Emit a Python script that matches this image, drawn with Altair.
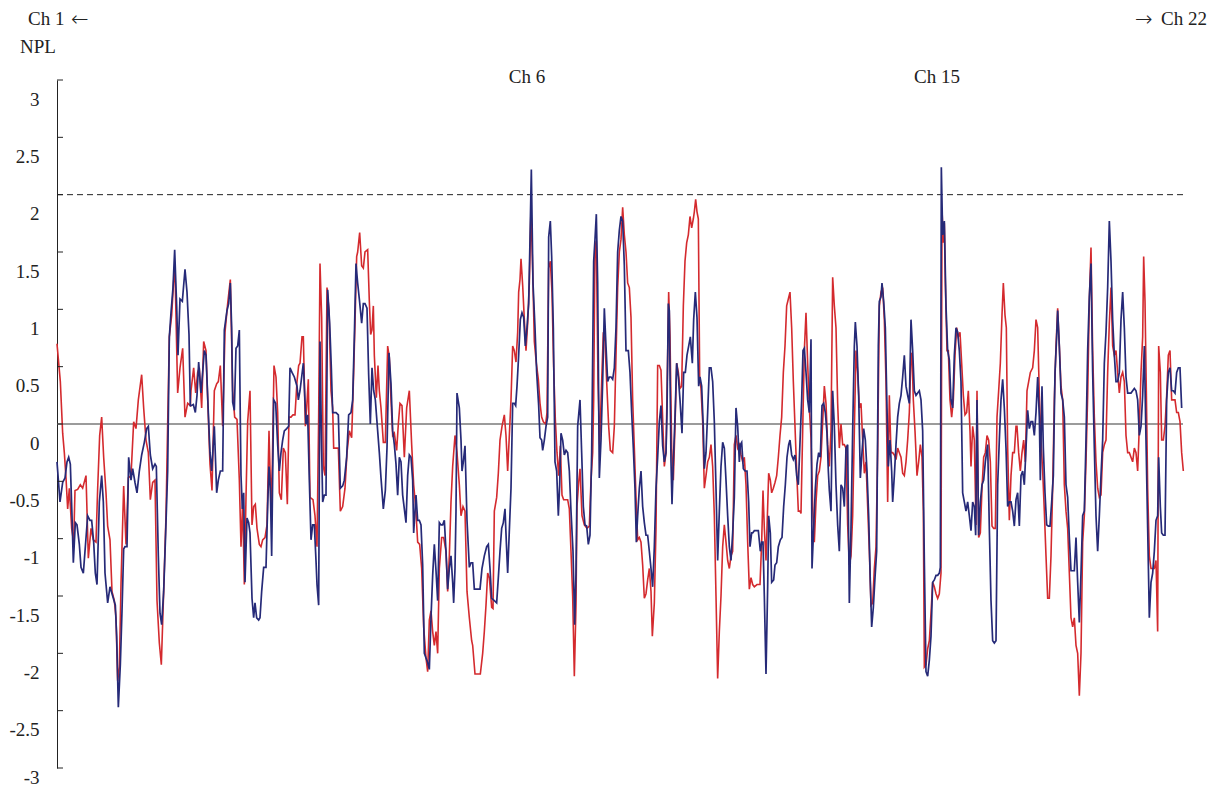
import altair as alt
import pandas as pd

# Genome position (cM, Ch 1 -> Ch 22) and NPL score
red_1 = [(0,0.70),(10,0.37),(17,-0.08),(22,-0.25),(27,-0.47),(32,-0.74),(37,-0.56),(44,-0.91),(50,-1.03),(54,-0.58),
         (62,-0.57),(70,-0.53),(77,-0.56),(87,-0.45),(94,-1.17),(102,-0.91),(109,-1.01),(117,-1.03),(122,-0.56),(128,-0.10),
         (134,0.06),(140,-0.29),(147,-0.60),(152,-0.89),(159,-1.01),(165,-1.46),(172,-1.54),(177,-1.69),(182,-2.24),(187,-2.12),
         (192,-1.40),(200,-0.54),(207,-1.05),(214,-0.47),(222,-0.45),(230,0.02),(237,-0.04),(244,0.21),(254,0.43),(260,0.14),
         (267,-0.14),(274,-0.25),(280,-0.66),(287,-0.51),(294,-0.49),(300,-1.54),(307,-1.91),(313,-2.10),(320,-1.46),(327,-0.80),
         (332,0.00),(337,0.76),(344,0.95),(350,1.25),(354,1.34),(362,0.27),(369,0.49),(377,0.66),(384,0.06),(392,0.18),(400,0.16)]
red_2 = [(402,0.29),(410,0.49),(416,0.27),(422,0.45),(427,0.49),(434,0.14),(440,0.72),(447,0.64),(454,0.06),(459,-0.35),
         (465,-0.58),(472,0.29),(479,0.35),(484,0.37),(490,0.51),(497,-0.02),(504,0.80),(512,1.05),(520,1.26),(527,0.29),
         (533,0.06),(540,0.04),(547,-0.49),(552,-1.07),(557,-0.68),(562,-1.40),(567,-0.64),(572,0.02),(579,0.29),(585,-0.88),
         (590,-0.72),(595,-0.70),(600,-0.91),(607,-1.05),(612,-1.07),(617,-1.01),(624,-0.99),(630,-0.88),(636,-0.06),(642,-0.72),
         (646,-0.35),(651,0.51),(657,0.41),(662,0.10),(667,-0.60),(673,-0.66),(679,-0.21),(685,-0.25),(691,-0.70),(696,0.06),
         (702,0.06),(708,0.08),(714,0.08),(720,0.37),(725,0.51),(729,0.53),(735,0.76),(739,0.76),(745,-0.02),(749,0.14),
         (754,0.39),(759,-0.64),(768,-0.66),(774,-0.80),(780,-1.07),(785,0.06),(789,1.40),(794,0.93),(799,-0.37),(804,-0.45),
         (810,1.19),(816,0.99),(822,0.29)]
red_3 = [(827,0.14),(830,-0.21),(837,-0.21),(844,-0.21),(850,-0.76),(857,-0.72),(864,-0.56),(870,-0.25),(877,-0.06),(884,-0.12),
         (890,0.45),(894,0.88),(899,1.46),(902,1.50),(908,1.67),(914,1.38),(919,1.36),(924,1.50),(932,1.52),(937,1.07),
         (941,0.78),(945,0.82),(949,1.03),(952,0.60),(958,0.23),(963,0.51),(967,0.29),(972,0.14),(979,-0.16),(985,-0.16),
         (992,0.68),(997,0.58),(1002,0.21),(1007,-0.10),(1012,-0.08),(1019,-0.23),(1024,0.00),(1029,0.18),(1035,0.16),(1042,-0.29),
         (1049,0.14),(1057,0.29),(1064,-0.18),(1070,-0.53),(1076,-0.72),(1082,-1.03),(1088,-1.05),(1094,-1.26),(1100,-1.77),(1107,-2.04),
         (1112,-2.16),(1117,-1.71),(1122,-1.63),(1127,-1.81),(1132,-1.93),(1137,-1.81),(1142,-2.00),(1147,-1.26),(1154,-0.99),(1160,-0.99),
         (1167,-1.11),(1172,-1.46),(1177,-1.15),(1182,-0.68),(1187,-0.37),(1194,-0.10),(1200,-0.25),(1207,-0.53),(1212,-0.80),(1218,-0.72),
         (1224,-0.76),(1230,-1.46),(1237,-1.69),(1244,-1.89)]
red_4 = [(1247,-1.93),(1254,-2.18),(1262,-2.18),(1270,-2.18),(1277,-2.00),(1282,-1.81),(1287,-1.58),(1292,-1.30),(1297,-1.34),(1304,-1.60),
         (1308,-1.61),(1312,-0.76),(1319,-0.64),(1324,-0.43),(1329,-0.14),(1335,-0.02),(1342,0.08),(1347,-0.10),(1352,-0.41),(1357,-0.10),
         (1362,0.21),(1367,0.68),(1372,0.64),(1377,0.54),(1382,0.80),(1385,1.15),(1389,1.26),(1392,1.44),(1397,1.21),(1402,0.91),
         (1407,0.64),(1412,0.88),(1417,1.23),(1422,1.89),(1427,1.34),(1432,0.72),(1438,0.53),(1444,0.39),(1449,0.18),(1454,0.06),
         (1459,0.02),(1466,0.00),(1470,0.10),(1475,1.36),(1480,1.42),(1485,1.15),(1490,0.49),(1495,0.04),(1500,-0.25),(1505,-0.45),
         (1510,-0.19),(1515,-0.62),(1520,-0.66),(1525,-0.66),(1532,-0.66),(1537,-0.74),(1542,-1.11),(1547,-1.50),(1552,-2.20),(1557,-1.58),
         (1560,-0.72),(1565,-0.51),(1569,-0.39),(1575,-0.80),(1582,-0.88),(1590,-0.91),(1597,-0.89),(1602,-0.49),(1607,-0.25),(1610,0.21),
         (1614,1.54),(1618,1.60),(1623,0.37),(1628,-0.18),(1634,0.37),(1639,0.80),(1644,0.72),(1649,0.37),(1655,-0.02),(1660,-0.23)]
red_5 = [(1667,-0.25),(1672,-0.02),(1677,0.60),(1682,1.19),(1687,1.50),(1692,1.61),(1697,1.89),(1702,1.65),(1707,1.50),(1712,1.23),
         (1717,1.19),(1722,0.93),(1727,0.21),(1732,-0.21),(1737,-0.64),(1742,-1.01),(1747,-0.99),(1752,-1.03),(1757,-1.23),(1762,-1.52),
         (1767,-1.48),(1772,-1.36),(1777,-1.26),(1782,-1.46),(1786,-1.85),(1792,-1.56),(1797,-0.91),(1802,0.51),(1807,0.51),(1812,0.47),
         (1817,0.04),(1822,-0.37),(1827,-0.25),(1832,0.60),(1835,1.15),(1839,0.76),(1844,-0.21),(1849,-0.49),(1854,-0.02),(1859,0.53),
         (1864,0.45),(1869,0.31),(1874,0.33),(1879,1.03),(1884,1.42),(1889,1.58),(1894,1.65),(1899,1.81),(1904,1.71),(1909,1.79),
         (1912,1.85),(1916,1.96),(1920,1.85),(1924,1.79),(1928,0.41),(1932,0.31),(1937,0.02),(1942,-0.56),(1947,-0.45),(1952,-0.33),
         (1957,-0.29),(1962,-0.18),(1967,-0.37),(1972,-0.80),(1977,-1.50),(1982,-2.22),(1987,-1.81),(1992,-1.50),(1997,-1.07),(2002,-0.88),
         (2007,-1.03),(2012,-1.19),(2017,-1.26),(2022,-1.15),(2027,-1.11),(2032,-0.18),(2037,-0.10),(2042,-0.21),(2047,-0.18),(2052,-0.27),
         (2057,-0.33),(2062,-0.29),(2067,-0.53),(2072,-1.03),(2077,-1.44),(2082,-1.34)]
red_6 = [(2087,-1.40),(2092,-1.42),(2100,-1.40),(2109,-1.40),(2114,-1.03),(2118,-0.58),(2122,-0.91),(2127,-1.19),(2132,-0.72),(2135,-0.43),
         (2140,-0.49),(2144,-0.60),(2149,-0.56),(2154,-0.51),(2159,-0.45),(2164,-0.29),(2169,-0.10),(2174,0.06),(2179,0.45),(2184,0.68),
         (2189,1.03),(2194,1.09),(2199,1.15),(2204,0.84),(2209,0.37),(2214,-0.02),(2219,-0.41),(2224,-0.76),(2229,-0.76),(2232,-0.78),
         (2237,-0.06),(2242,0.64),(2247,0.97),(2252,0.53),(2257,0.14),(2262,-0.12),(2267,-0.72),(2272,-1.03),(2277,-0.68),(2282,-0.45),
         (2287,-0.41),(2292,-0.29),(2297,0.02),(2302,0.33),(2307,0.18),(2312,-0.18),(2317,-0.37),(2322,-0.06),(2327,1.28),(2332,1.03),
         (2337,0.84),(2342,0.18),(2347,-0.21),(2352,0.00),(2357,-0.18),(2362,-0.18),(2367,-0.21),(2372,-0.88),(2377,-1.23),(2382,-1.15),
         (2387,-0.80),(2392,-0.06),(2397,0.64),(2402,0.45),(2407,0.14),(2412,0.18),(2417,-0.14),(2422,-0.43),(2427,-0.33),(2432,-0.72),
         (2437,-1.11),(2442,-1.58),(2447,-1.56),(2452,-1.26),(2457,-1.07),(2462,-0.25),(2467,1.03),(2472,1.15),(2477,1.19),(2482,0.91),
         (2487,0.37),(2492,-0.68),(2497,0.25),(2502,-0.25)]
red_7 = [(2507,-0.25),(2512,-0.27),(2517,-0.31),(2522,-0.21),(2527,-0.25),(2532,-0.29),(2537,-0.43),(2542,-0.45),(2547,-0.33),(2552,-0.14),
         (2557,0.10),(2562,0.62),(2565,0.60),(2569,0.21),(2574,-0.06),(2580,-0.45),(2585,-0.33),(2590,-0.18),(2595,-0.29),(2599,-0.76),
         (2602,-2.12),(2607,-2.10),(2612,-1.96),(2617,-1.89),(2622,-1.65),(2627,-1.38),(2632,-1.42),(2637,-1.48),(2642,-1.52),(2647,-1.48),
         (2652,-1.30),(2655,1.87),(2659,1.58),(2662,1.75),(2665,1.23),(2670,0.64),(2674,0.64),(2679,0.21),(2684,0.06),(2689,0.21),
         (2694,0.60),(2699,0.84),(2704,0.76),(2709,0.80),(2714,0.53),(2719,0.25),(2724,0.08),(2729,0.10),(2734,0.29),(2739,-0.06),
         (2742,-0.37),(2747,-0.02),(2752,-0.14),(2757,-0.88),(2760,0.29),(2765,-0.99),(2770,-0.95),(2775,-0.56),(2780,-0.29),(2785,-0.25),
         (2790,-0.10),(2795,-0.14),(2800,-0.33),(2805,-0.89),(2810,-0.91),(2815,-0.91),(2820,0.06),(2825,0.29),(2830,0.53),(2835,0.95),
         (2839,1.23),(2844,0.95),(2848,0.84),(2852,-0.21),(2857,-0.84),(2862,-0.45),(2867,-0.25),(2872,-0.25),(2877,-0.02),(2880,-0.02),
         (2885,-0.25),(2890,-0.41),(2895,-0.25),(2900,-0.14),(2905,-0.33),(2910,0.29),(2915,0.37),(2920,0.45)]
red_8 = [(2927,0.49),(2932,0.64),(2937,0.91),(2942,0.84),(2947,0.25),(2952,-0.14),(2957,-0.41),(2962,-0.76),(2967,-1.15),(2972,-1.52),
         (2977,-1.52),(2982,-1.15),(2987,-0.56),(2992,0.21),(2997,0.68),(3002,1.01),(3007,0.68),(3012,0.33),(3017,0.21),(3022,-0.53),
         (3027,-0.76),(3032,-0.91),(3037,-1.30),(3042,-1.69),(3047,-1.77),(3052,-1.69),(3057,-1.93),(3062,-2.00),(3067,-2.37),(3072,-2.00),
         (3077,-1.03),(3082,-0.80),(3087,-0.33),(3092,0.25),(3097,1.07),(3102,1.54),(3107,0.64),(3112,0.06),(3117,-0.33),(3122,-0.56),
         (3127,-0.64),(3132,-0.62),(3137,-0.25),(3142,-0.18),(3147,-0.14),(3152,0.45),(3157,0.88),(3162,1.19),(3167,0.68),(3172,0.60),
         (3177,0.64),(3182,0.45),(3187,0.27),(3192,0.41),(3197,0.45),(3202,0.37),(3207,-0.10),(3212,-0.25),(3217,-0.25),(3222,-0.29),
         (3227,-0.33),(3232,-0.21),(3237,-0.25),(3242,-0.41),(3247,-0.02),(3252,0.45),(3257,0.76),(3260,1.46),(3264,1.07),(3268,0.29),
         (3272,-0.56),(3277,-1.15),(3282,-1.26),(3287,-1.26),(3292,-1.26),(3297,-1.19),(3302,-1.81),(3305,0.68),(3310,0.45),(3314,-0.14),
         (3319,-0.14),(3324,-0.02),(3329,0.25),(3334,0.60),(3339,0.64),(3344,0.21),(3349,0.21),(3354,0.21),(3359,0.10),(3364,0.10),
         (3369,0.02),(3374,-0.25),(3379,-0.41)]

blue_1 = [(0,-0.33),(9,-0.68),(17,-0.51),(24,-0.47),(30,-0.33),(35,-0.29),(40,-0.35),(45,-0.80),(49,-1.21),(55,-0.86),
          (60,-0.88),(67,-1.05),(72,-1.25),(79,-1.30),(85,-1.07),(92,-0.80),(99,-0.84),(104,-0.84),(110,-1.03),(115,-1.30),
          (120,-1.40),(127,-0.68),(134,-0.45),(139,-0.68),(144,-1.30),(152,-1.56),(159,-1.42),(167,-1.50),(175,-1.58),(179,-1.85),
          (184,-2.47),(190,-2.10),(195,-1.63),(200,-1.09),(204,-1.07),(210,-1.07),(215,-0.29),(222,-0.49),(227,-0.39),(234,-0.51),
          (240,-0.60),(247,-0.41),(254,-0.27),(262,-0.16),(269,-0.04),(274,-0.02),(280,-0.27),(287,-0.39),(294,-0.35),(298,-0.37),
          (304,-1.15),(309,-1.65),(314,-1.75),(320,-1.46),(326,-0.95),(332,-0.41),(337,0.76),(342,0.97),(348,1.19),(353,1.52),
          (359,1.03),(363,0.60),(369,1.09),(376,1.07),(384,1.35),(390,1.15),(396,0.78),(400,0.16)]
blue_2 = [(402,0.16),(409,0.17),(415,0.10),(420,0.25),(425,0.54),(432,0.27),(437,0.45),(442,0.64),(447,0.60),(454,0.10),
          (459,-0.25),(464,-0.41),(472,-0.02),(479,-0.60),(484,-0.49),(490,-0.41),(497,-0.41),(502,0.82),(510,0.99),(515,1.05),
          (520,1.23),(524,0.84),(527,0.19),(532,0.12),(537,0.66),(542,0.68),(547,0.82),(550,0.02),(552,-0.45),(556,-0.74),
          (560,-0.60),(564,-1.38),(570,-0.82),(575,-0.86),(579,-0.95),(585,-1.52),(590,-1.69),(594,-1.56),(599,-1.69),(605,-1.71),
          (609,-1.69),(614,-1.46),(620,-1.25),(627,-1.25),(632,-0.72),(636,-0.37),(640,-0.56),(644,-1.15),(650,0.21),(656,0.18),
          (662,-0.18),(667,-0.41),(672,-0.25),(677,-0.14),(682,-0.06),(689,-0.04),(695,-0.02),(699,0.49),(705,0.45),(712,0.41),
          (720,0.33),(724,0.21),(729,0.29),(734,0.41),(739,0.53),(747,0.00),(752,0.08),(757,-0.49),(762,-1.01),(767,-0.88),
          (772,-0.88),(777,-1.19),(780,-1.40),(785,-1.58),(789,0.72),(794,-0.23),(797,-0.68),(802,-0.62),(807,-0.62),(812,1.17),
          (818,0.88),(823,0.49)]
blue_3 = [(827,0.10),(832,0.10),(837,0.10),(844,0.08),(850,-0.56),(857,-0.54),(862,-0.49),(869,-0.29),(875,0.08),(882,0.10),
          (887,0.21),(892,0.76),(897,1.40),(902,1.23),(907,1.09),(914,0.88),(919,1.05),(924,1.05),(930,1.01),(935,0.43),
          (940,0.00),(945,0.49),(950,0.29),(955,0.21),(962,-0.06),(967,-0.25),(972,-0.47),(979,-0.74),(985,-0.58),(990,-0.21),
          (996,0.62),(1002,0.35),(1007,-0.06),(1012,-0.18),(1017,-0.35),(1022,-0.62),(1027,-0.29),(1032,-0.33),(1037,-0.62),(1042,-0.74),
          (1047,-0.86),(1052,-0.45),(1057,-0.27),(1062,-0.29),(1067,-0.49),(1070,-0.95),(1077,-0.62),(1082,-0.84),(1087,-0.84),(1092,-0.88),
          (1097,-1.23),(1102,-2.00),(1107,-2.04),(1112,-2.08),(1117,-2.14),(1122,-1.69),(1127,-1.32),(1132,-1.05),(1137,-1.28),(1142,-1.54),
          (1147,-0.86),(1152,-0.88),(1157,-0.88),(1162,-0.84),(1167,-1.11),(1172,-1.44),(1177,-1.26),(1182,-1.15),(1187,-1.38),(1190,-1.56),
          (1194,-1.26),(1197,-0.76),(1200,0.27),(1207,0.14),(1212,-0.14),(1215,-0.41),(1219,-0.33),(1224,-0.19),(1230,-0.84),(1237,-1.25),
          (1242,-1.21)]
blue_4 = [(1247,-1.21),(1252,-1.44),(1260,-1.44),(1269,-1.44),(1275,-1.26),(1282,-1.15),(1289,-1.07),(1294,-1.05),(1299,-1.26),(1304,-1.52),
          (1312,-1.54),(1319,-1.56),(1324,-1.34),(1329,-1.11),(1334,-0.91),(1339,-0.86),(1344,-0.74),(1348,-1.03),(1352,-1.30),(1357,-0.93),
          (1362,-0.56),(1367,0.18),(1372,0.18),(1376,0.16),(1380,0.33),(1385,0.60),(1390,0.91),(1395,0.97),(1400,0.93),(1405,0.68),
          (1410,0.84),(1415,1.05),(1419,1.61),(1423,2.22),(1428,1.23),(1434,0.84),(1439,0.45),(1445,0.16),(1449,-0.12),(1454,-0.14),
          (1457,-0.23),(1462,-0.14),(1467,-0.02),(1472,0.06),(1475,1.63),(1480,1.77),(1484,1.46),(1489,0.84),(1494,-0.33),(1499,-0.41),
          (1504,-0.80),(1508,-0.53),(1512,-0.08),(1517,-0.14),(1522,-0.27),(1527,-0.23),(1532,-0.25),(1537,-0.41),(1542,-0.76),(1548,-1.11),
          (1553,-1.75),(1557,-1.30),(1562,-0.02),(1569,0.21),(1574,-0.25),(1579,-0.72),(1584,-0.88),(1589,-0.89),(1594,-1.05),(1599,-0.97),
          (1604,-0.25),(1610,1.42),(1614,1.61),(1618,1.83),(1622,1.23),(1627,-0.47),(1632,-0.14),(1637,0.37),(1642,1.01),(1647,0.68),
          (1652,0.37),(1657,0.41),(1662,0.41)]
blue_5 = [(1667,0.39),(1672,0.49),(1677,0.84),(1682,1.50),(1687,1.69),(1692,1.81),(1697,1.77),(1702,1.38),(1707,0.64),(1714,0.64),
          (1719,0.45),(1724,0.10),(1729,-0.21),(1734,-0.56),(1738,-1.03),(1742,-0.80),(1747,-0.56),(1752,-0.41),(1757,-0.72),(1762,-0.86),
          (1767,-0.97),(1772,-0.97),(1777,-1.11),(1782,-1.26),(1787,-1.42),(1792,-1.07),(1797,-0.56),(1802,-0.29),(1807,0.02),(1812,0.16),
          (1817,-0.19),(1822,-0.33),(1827,-0.25),(1830,0.10),(1834,1.05),(1837,0.99),(1842,-0.33),(1845,-0.70),(1849,-0.33),(1854,0.06),
          (1859,0.53),(1864,0.41),(1869,0.21),(1875,-0.08),(1880,0.45),(1885,0.45),(1890,0.60),(1895,0.68),(1900,0.76),(1906,0.53),
          (1910,0.91),(1915,1.15),(1920,0.93),(1925,0.33),(1929,0.41),(1934,0.33),(1939,-0.04),(1942,-0.39),(1947,-0.25),(1952,0.10),
          (1957,0.49),(1962,0.49),(1967,0.37),(1972,0.02),(1977,-0.56),(1982,-1.19),(1987,-0.76),(1992,-0.37),(1997,-0.16),(2002,-0.21),
          (2007,-0.49),(2012,-0.80),(2017,-1.07),(2022,-1.19),(2027,-0.95),(2032,-0.64),(2037,0.14),(2042,-0.02),(2047,-0.33),(2050,-0.18),
          (2054,-0.16),(2059,-0.39),(2064,-0.41),(2070,-0.41),(2075,-0.68),(2079,-1.07),(2084,-0.95)]
blue_6 = [(2087,-0.95),(2092,-0.93),(2097,-0.93),(2104,-0.93),(2110,-1.11),(2114,-1.03),(2118,-1.03),(2122,-1.50),(2127,-2.18),(2132,-1.42),
          (2135,-0.80),(2140,-0.95),(2144,-1.38),(2150,-1.36),(2154,-1.23),(2159,-1.21),(2164,-1.07),(2170,-1.01),(2175,-0.99),(2180,-0.72),
          (2185,-0.53),(2190,-0.29),(2195,-0.18),(2199,-0.14),(2204,-0.27),(2209,-0.31),(2214,-0.27),(2219,-0.45),(2224,-0.53),(2229,-0.16),
          (2234,0.21),(2238,0.64),(2242,0.66),(2247,0.45),(2252,0.21),(2257,0.10),(2262,0.74),(2265,-1.26),(2270,-0.91),(2275,-0.56),
          (2280,-0.35),(2285,-0.25),(2290,-0.29),(2295,0.16),(2300,0.18),(2305,0.10),(2310,-0.08),(2314,-0.41),(2317,-0.58),(2322,-0.76),
          (2327,0.29),(2332,-0.02),(2337,-0.53),(2342,-0.88),(2347,-1.11),(2352,-0.53),(2357,-0.56),(2362,-0.72),(2367,-0.21),(2372,-0.18),
          (2377,-1.56),(2382,-0.91),(2387,-0.06),(2392,0.68),(2395,0.89),(2400,0.68),(2405,0.25),(2410,-0.47),(2415,-0.25),(2420,-0.04),
          (2425,-0.14),(2430,-0.41),(2435,-0.80),(2440,-1.38),(2444,-1.77),(2449,-1.60),(2454,-1.34),(2459,-1.11),(2464,0.68),(2467,1.07),
          (2472,1.11),(2475,1.23),(2480,1.07),(2485,0.84),(2490,0.14),(2494,-0.37),(2499,-0.14),(2504,-0.41)]
blue_7 = [(2507,-0.68),(2512,-0.45),(2517,-0.18),(2522,0.06),(2527,0.18),(2532,0.25),(2537,0.41),(2542,0.60),(2547,0.33),(2552,0.25),
          (2557,0.18),(2562,0.91),(2567,0.64),(2572,0.29),(2577,0.25),(2582,0.27),(2587,0.29),(2592,0.21),(2597,-0.06),(2602,-1.19),
          (2607,-2.16),(2612,-2.20),(2617,-2.06),(2622,-1.85),(2627,-1.38),(2632,-1.36),(2637,-1.32),(2642,-1.32),(2647,-1.30),(2650,-1.25),
          (2653,2.24),(2657,1.65),(2662,1.77),(2667,1.03),(2672,0.64),(2677,0.56),(2682,0.21),(2687,0.14),(2692,0.60),(2697,0.84),
          (2702,0.80),(2707,0.64),(2712,0.37),(2717,-0.60),(2722,-0.68),(2727,-0.76),(2732,-0.68),(2737,-0.80),(2742,-0.93),(2747,-0.68),
          (2752,-0.72),(2756,-0.97),(2760,0.21),(2765,-0.97),(2770,-0.68),(2775,-0.53),(2780,-0.49),(2785,-0.33),(2792,-0.18),(2797,-0.91),
          (2802,-1.54),(2807,-1.89),(2812,-1.91),(2817,-1.89),(2822,-0.53),(2827,-0.14),(2832,0.21),(2837,0.39),(2842,0.14),(2847,-0.21),
          (2852,-0.72),(2857,-0.68),(2862,-0.68),(2867,-0.76),(2872,-0.89),(2877,-0.66),(2882,-0.60),(2887,-0.89),(2892,-0.45),(2897,-0.41),
          (2902,-0.53),(2907,-0.21),(2912,0.12),(2917,-0.04),(2922,0.02)]
blue_8 = [(2927,0.02),(2932,-0.10),(2937,0.10),(2942,0.41),(2947,0.06),(2950,-0.49),(2955,0.33),(2959,-0.21),(2964,-0.60),(2969,-0.88),
          (2974,-0.89),(2979,-0.89),(2984,-0.68),(2989,-0.45),(2994,0.45),(2999,0.76),(3002,0.99),(3007,0.68),(3012,0.27),(3017,0.21),
          (3022,0.06),(3027,-0.53),(3032,-0.64),(3037,-0.99),(3042,-1.28),(3047,-1.28),(3052,-1.28),(3057,-0.99),(3062,-1.38),(3067,-1.73),
          (3072,-1.30),(3077,-0.80),(3082,-0.76),(3087,-0.14),(3092,0.64),(3097,1.11),(3102,1.40),(3107,0.45),(3112,-0.21),(3117,-0.80),
          (3122,-1.11),(3127,-0.80),(3132,-0.45),(3137,-0.14),(3142,0.53),(3147,0.80),(3152,1.19),(3157,1.77),(3162,1.42),(3167,0.91),
          (3172,0.60),(3177,0.37),(3182,0.37),(3187,0.45),(3192,0.91),(3197,1.15),(3202,0.84),(3207,0.41),(3212,0.27),(3217,0.27),
          (3222,0.27),(3227,0.29),(3232,0.31),(3237,0.29),(3242,0.21),(3247,-0.10),(3252,-0.02),(3257,0.25),(3262,0.68),(3267,-0.14),
          (3272,-0.91),(3277,-1.69),(3282,-1.38),(3287,-1.30),(3292,-1.11),(3297,-0.84),(3302,-0.80),(3305,-0.29),(3310,-0.72),(3314,-0.95),
          (3319,-0.97),(3324,-0.97),(3329,0.21),(3334,0.45),(3339,0.49),(3344,0.29),(3349,0.29),(3354,0.27),(3359,0.45),(3364,0.49),
          (3369,0.49),(3374,0.14)]

y_ticks = [-3, -2.5, -2, -1.5, -1, -0.5, 0, 0.5, 1, 1.5, 2, 2.5, 3]
baseline_npl = [0]
threshold_npl = [2.0]
chrom_labels = ["Ch 6", "Ch 15"]
chrom_pos = [1410, 2640]

RED = "#d42a2e"
BLUE = "#262a78"
INK = "#222222"
FONT = "Liberation Serif"


def frame(segments):
    rows = [{"pos": p, "npl": v} for seg in segments for p, v in seg]
    return pd.DataFrame(rows)


red_df = frame([red_1, red_2, red_3, red_4, red_5, red_6, red_7, red_8])
blue_df = frame([blue_1, blue_2, blue_3, blue_4, blue_5, blue_6, blue_7, blue_8])

xscale = alt.Scale(domain=[0, 3378], nice=False, zero=False)
yscale = alt.Scale(domain=[-3, 3], nice=False, zero=False)

yaxis = alt.Axis(
    values=y_ticks, ticks=False, grid=False, title=None,
    labelOffset={"condition": {"test": "datum.value <= -3", "value": 9}, "value": 19},
    labelPadding=18, labelFont=FONT, labelFontSize=19,
    labelColor=INK, domainColor=INK, domainWidth=1,
    labelExpr="datum.value < 0 ? '-' + format(-datum.value, '') : format(datum.value, '')",
)


def ych(field):
    return alt.Y(field, scale=yscale, axis=yaxis)


red_line = alt.Chart(red_df).mark_line(color=RED, strokeWidth=1.6).encode(
    x=alt.X("pos:Q", scale=xscale, axis=None), y=ych("npl:Q"),
)
blue_line = alt.Chart(blue_df).mark_line(color=BLUE, strokeWidth=1.7).encode(
    x=alt.X("pos:Q", scale=xscale, axis=None), y=ych("npl:Q"),
)

tick_marks = alt.Chart(pd.DataFrame({"npl": y_ticks})).mark_rule(color=INK, strokeWidth=1).encode(
    y=ych("npl:Q"), x=alt.value(0), x2=alt.value(6)
)
zero_rule = alt.Chart(pd.DataFrame({"npl": baseline_npl})).mark_rule(color="#7a7a7a", strokeWidth=1.3).encode(
    y=ych("npl:Q")
)
thr_rule = alt.Chart(pd.DataFrame({"npl": threshold_npl})).mark_rule(
    color=INK, strokeWidth=1, strokeDash=[6, 4]
).encode(y=ych("npl:Q"))

chrom_text = alt.Chart(pd.DataFrame({"label": chrom_labels, "pos": chrom_pos})).mark_text(
    font=FONT, fontSize=19, color=INK, baseline="middle", align="center"
).encode(x=alt.X("pos:Q", scale=xscale, axis=None), y=alt.value(-3), text="label:N")


def note(txt, x, y, align, size=19, font=FONT, weight=400):
    return alt.Chart(pd.DataFrame({"t": [txt]})).mark_text(
        font=font, fontSize=size, color=INK, baseline="middle", align=align, fontWeight=weight
    ).encode(text="t:N", x=alt.value(x), y=alt.value(y))


chart = alt.layer(
    zero_rule, thr_rule, red_line, blue_line, tick_marks, chrom_text,
    note("Ch 1", -29, -61, "left"),
    note("\u2190", 14, -60, "left", 21, "DejaVu Sans", 200),
    note("\u2192", 1078, -60, "left", 21, "DejaVu Sans", 200),
    note("Ch 22", 1150, -61, "right"),
    note("NPL", -37, -33, "left"),
).properties(
    width=1126, height=688,
    autosize=alt.AutoSizeParams(type="none"),
    padding={"left": 49, "top": 72, "right": 30, "bottom": 19},
).configure_view(strokeWidth=0, stroke="transparent")

chart.save("out.html", embed_options={"renderer": "svg", "actions": False})
